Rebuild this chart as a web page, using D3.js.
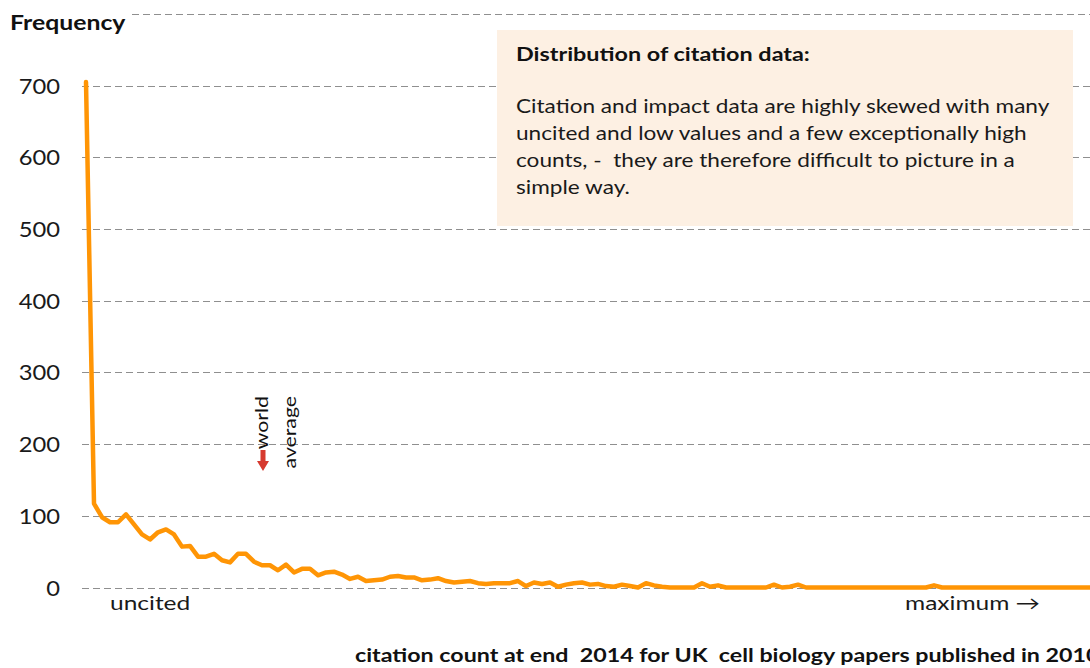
<!DOCTYPE html>
<html>
<head>
<meta charset="utf-8">
<script src="https://cdn.jsdelivr.net/npm/d3@7"></script>
<style>
  html, body { margin: 0; padding: 0; background: #ffffff; }
  svg { display: block; font-family: Lato, "Open Sans", sans-serif; }
</style>
</head>
<body>
<svg id="chart" width="1090" height="668"></svg>
<script>
// Citation-count bins (0 = uncited, rising towards the maximum)
const citationBins = d3.range(0, 127);

// Number of papers in each citation bin
const frequency = [
  705, 117, 98, 91, 91, 102, 88, 74, 67, 77,
  81, 74, 57, 58, 43, 43, 47, 38, 35, 47,
  47, 36, 31, 31, 24, 32, 21, 26, 26, 17,
  21, 22, 18, 12, 15, 9, 10, 11, 15, 16,
  14, 14, 10, 11, 13, 9, 7, 8, 9, 6,
  5, 6, 6, 6, 9, 2, 7, 5, 7, 1,
  4, 6, 7, 4, 5, 2, 1, 4, 2, 0,
  6, 3, 1, 0, 0, 0, 0, 6, 1, 3,
  0, 0, 0, 0, 0, 0, 4, 0, 1, 4,
  0, 0, 0, 0, 0, 0, 0, 0, 0, 0,
  0, 0, 0, 0, 0, 0, 3, 0, 0, 0,
  0, 0, 0, 0, 0, 0, 0, 0, 0, 0,
  0, 0, 0, 0, 0, 0, 0
];

const yTicks = [0, 100, 200, 300, 400, 500, 600, 700];
const gridValues = [0, 100, 200, 300, 400, 500, 600, 700, 800];
const xEndLabels = ["uncited", "maximum \u2192"];
const worldAverageLabel = ["world", "average"];
const boxTitle = "Distribution of citation data:";
const boxLines = [
  "Citation and impact data are highly skewed with many",
  "uncited and low values and a few exceptionally high",
  "counts, -  they are therefore difficult to picture in a",
  "simple way."
];
const yTitle = "Frequency";
const xTitle = "citation count at end  2014 for UK  cell biology papers published in 2010";

const svg = d3.select("#chart");
const W = 1090, H = 668;

// text set in a horizontally widened face
function wideText(sel, px, py, sx, extra) {
  return sel.append("text")
    .attr("transform", `translate(${px},${py})${extra || ""} scale(${sx},1)`)
    .attr("xml:space", "preserve")
    .style("white-space", "pre");
}

const x = d3.scaleLinear().domain([0, 126]).range([86, 1094]);
const y = d3.scaleLinear().domain([0, 800]).range([587.5, 13.9]);

// dashed horizontal grid
svg.append("g").selectAll("line")
  .data(gridValues)
  .join("line")
  .attr("x1", d => d === 800 ? 132 : 82)
  .attr("x2", W)
  .attr("y1", d => Math.round(y(d)) + 0.5)
  .attr("y2", d => Math.round(y(d)) + 0.5)
  .attr("stroke", "#8f8f8f")
  .attr("stroke-width", 1.2)
  .attr("stroke-dasharray", "7,4");

// y axis tick labels
svg.append("g").selectAll("text")
  .data(yTicks)
  .join("text")
  .attr("transform", d => `translate(60,${y(d) + 8}) scale(1.08,1)`)
  .attr("text-anchor", "end")
  .attr("font-size", 22)
  .attr("fill", "#1a1a1a")
  .text(d => d);

wideText(svg, 10, 30, 1.24)
  .attr("font-size", 20).attr("font-weight", "bold")
  .attr("fill", "#111")
  .text(yTitle);

// annotation box
const box = svg.append("g");
box.append("rect")
  .attr("x", 497).attr("y", 30)
  .attr("width", 576).attr("height", 196)
  .attr("fill", "#fdf0e3");
wideText(box, 516, 61, 1.23)
  .attr("font-size", 19).attr("font-weight", "bold")
  .attr("fill", "#111")
  .text(boxTitle);
boxLines.forEach((t, i) => {
  wideText(box, 516, 113 + i * 27, 1.19)
    .attr("font-size", 19)
    .attr("fill", "#1a1a1a")
    .text(t);
});

// distribution line
const line = d3.line()
  .x((d, i) => x(citationBins[i]))
  .y(d => y(d));

svg.append("path")
  .datum(frequency)
  .attr("d", line)
  .attr("fill", "none")
  .attr("stroke", "#ff9505")
  .attr("stroke-width", 4.5)
  .attr("stroke-linejoin", "round")
  .attr("stroke-linecap", "round");

// world average marker
const wa = svg.append("g");
worldAverageLabel.forEach((t, i) => {
  wideText(wa, 268 + i * 28, 396, 1.25, " rotate(-90)")
    .attr("text-anchor", "end")
    .attr("font-size", 17)
    .attr("fill", "#111")
    .text(t);
});
wa.append("path")
  .attr("d", "M260.5,450 L265.5,450 L265.5,461 L269,461 L263,471 L257,461 L260.5,461 Z")
  .attr("fill", "#d63a2f");

// x end labels
wideText(svg, 110, 610, 1.29)
  .attr("font-size", 19).attr("fill", "#1a1a1a")
  .text(xEndLabels[0]);
wideText(svg, 905, 610, 1.29)
  .attr("font-size", 19).attr("fill", "#1a1a1a")
  .text(xEndLabels[1]);

// x axis title
wideText(svg, 355, 662, 1.29)
  .attr("font-size", 18).attr("font-weight", "bold")
  .attr("fill", "#111")
  .text(xTitle);
</script>
</body>
</html>
